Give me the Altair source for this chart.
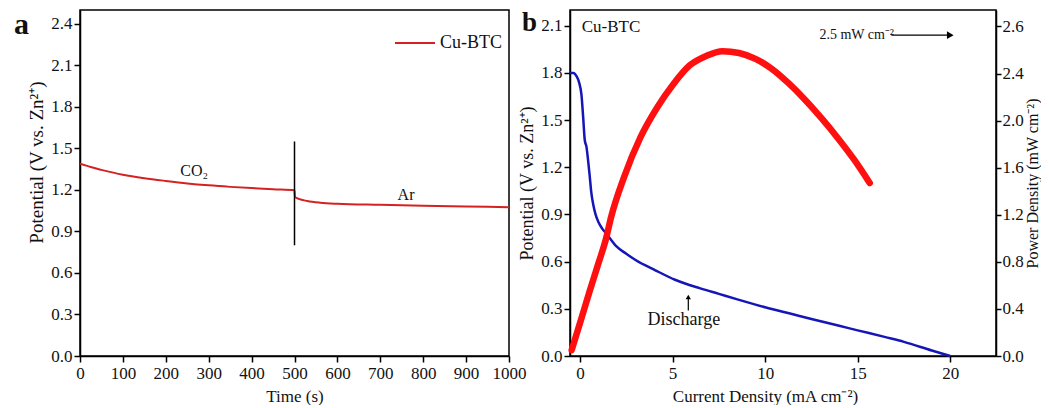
import altair as alt
import pandas as pd

FONT = "Liberation Serif"
RED_A = "#d42222"
RED_B = "#ff1010"
BLUE_B = "#1616b8"
INK = "#111111"

# ---------------- panel a : potential vs time ----------------
time_s = [0, 25, 50, 100, 150, 200, 250, 300, 350, 400, 450, 500,
          501, 510, 530, 560, 600, 700, 800, 900, 1000]
potential_a = [1.390, 1.365, 1.345, 1.310, 1.285, 1.265, 1.247, 1.233, 1.222, 1.213, 1.205, 1.198,
               1.150, 1.135, 1.120, 1.108, 1.100, 1.092, 1.085, 1.080, 1.075]
series_a = "Cu-BTC"
switch_time = [500]
switch_low = [0.80]
switch_high = [1.55]
gas_text = ["CO₂", "Ar"]
gas_time = [266, 760]
gas_pot = [1.34, 1.16]
time_ticks = [0, 100, 200, 300, 400, 500, 600, 700, 800, 900, 1000]
pot_ticks_a = [0.0, 0.3, 0.6, 0.9, 1.2, 1.5, 1.8, 2.1, 2.4]
panel_labels = ["a", "b"]

# ---------------- panel b : polarisation + power ----------------
current_v = [-0.54, -0.35, -0.19, -0.05, 0.08, 0.17, 0.26, 0.35, 0.44, 0.52, 0.61, 0.72, 0.84,
             1.0, 1.2, 1.41, 1.94, 2.5, 3.0, 4.07, 5.13, 6.5, 7.5, 8.5, 10.0, 11.5, 12.5,
             14.0, 15.0, 16.5, 17.5, 19.0, 20.0]
potential_b = [1.80, 1.80, 1.78, 1.74, 1.66, 1.52, 1.37, 1.33, 1.24, 1.15, 1.04, 0.96, 0.90,
               0.85, 0.81, 0.78, 0.70, 0.65, 0.61, 0.545, 0.485, 0.43, 0.395, 0.36, 0.31, 0.265, 0.235,
               0.192, 0.163, 0.12, 0.09, 0.035, 0.0]
current_p = [-0.45, 0.0, 0.5, 1.0, 1.41, 1.68, 2.38, 3.27, 4.16, 5.04, 5.93, 6.82, 7.70,
             8.59, 9.48, 10.36, 11.25, 12.14, 13.02, 13.91, 14.80, 15.65]
power_b = [0.05, 0.28, 0.54, 0.79, 1.00, 1.18, 1.52, 1.86, 2.11, 2.31, 2.47, 2.55, 2.59,
           2.575, 2.525, 2.44, 2.32, 2.18, 2.025, 1.855, 1.67, 1.47]
cd_ticks = [0, 5, 10, 15, 20]
pot_ticks_b = [0.0, 0.3, 0.6, 0.9, 1.2, 1.5, 1.8, 2.1]
power_ticks = [0.0, 0.4, 0.8, 1.2, 1.6, 2.0, 2.4, 2.8]

note_text = ["Cu-BTC", "Discharge"]
note_current = [0.09, 5.61]
note_pot = [2.09, 0.23]
peak_text = ["2.5 mW cm⁻²"]
peak_current = [12.93]
peak_pot = [2.04]
peak_arrow_from = [16.82]
peak_arrow_to = [20.0]
dis_arrow_current = [5.85]
dis_arrow_low = [0.29]
dis_arrow_high = [0.375]

# ================= panel a chart =================
df_a = pd.DataFrame({"t": time_s, "v": potential_a, "s": series_a})
df_sw = pd.DataFrame({"t": switch_time, "v": switch_low, "v2": switch_high})
df_gas = pd.DataFrame({"t": gas_time, "v": gas_pot, "lab": gas_text})
df_la = pd.DataFrame({"lab": [panel_labels[0]]})
df_lb = pd.DataFrame({"lab": [panel_labels[1]]})

X_AXIS = dict(labelPadding=3, titlePadding=7)

xa = alt.X("t:Q", scale=alt.Scale(domain=[0, 1000], nice=False, zero=False),
           axis=alt.Axis(values=time_ticks, format="d", title="Time (s)", **X_AXIS))
ya = alt.Y("v:Q", scale=alt.Scale(domain=[0, 2.5], nice=False),
           axis=alt.Axis(values=pot_ticks_a, format=".1f", title="Potential (V vs. Zn²⁺)",
                         titleY=152, titleFontSize=19))

line_a = alt.Chart(df_a).mark_line(strokeWidth=2, interpolate="monotone").encode(
    x=xa, y=ya,
    color=alt.Color("s:N", scale=alt.Scale(domain=[series_a], range=[RED_A]),
                    legend=alt.Legend(title=None, orient="none", legendX=314, legendY=12,
                                      symbolType="stroke", symbolSize=1600, symbolStrokeWidth=2,
                                      labelFont=FONT, labelFontSize=18, labelColor=INK,
                                      labelOffset=4, padding=0)))
rule_a = alt.Chart(df_sw).mark_rule(color="black", strokeWidth=1.5).encode(
    x=alt.X("t:Q"), y=alt.Y("v:Q"), y2="v2:Q")
gas_a = alt.Chart(df_gas).mark_text(font=FONT, fontSize=16, color=INK).encode(
    x="t:Q", y="v:Q", text="lab:N")
lab_a = alt.Chart(df_la).mark_text(font=FONT, fontSize=30, fontWeight="bold", color=INK,
                                   align="left", baseline="alphabetic").encode(
    x=alt.value(-66), y=alt.value(24), text="lab:N")

left = alt.layer(line_a, rule_a, gas_a, lab_a).properties(width=429, height=346)

# ================= panel b chart =================
df_v = pd.DataFrame({"c": current_v, "v": potential_b})
df_p = pd.DataFrame({"c": current_p, "p": power_b})
df_note = pd.DataFrame({"c": note_current, "v": note_pot, "lab": note_text})
df_peak = pd.DataFrame({"c": peak_current, "v": peak_pot, "lab": peak_text})
df_pa = pd.DataFrame({"c": peak_arrow_from, "c2": peak_arrow_to, "v": peak_pot})
df_ph = pd.DataFrame({"c": peak_arrow_to, "v": peak_pot})
df_da = pd.DataFrame({"c": dis_arrow_current, "v": dis_arrow_low, "v2": dis_arrow_high})
df_dh = pd.DataFrame({"c": dis_arrow_current, "v": dis_arrow_high})

xb = alt.X("c:Q", scale=alt.Scale(domain=[-0.54, 22.47], nice=False, zero=False),
           axis=alt.Axis(values=cd_ticks, format="d", title="Current Density (mA cm⁻²)",
                         titleX=195, **X_AXIS))
yb = alt.Y("v:Q", scale=alt.Scale(domain=[0, 2.2], nice=False),
           axis=alt.Axis(values=pot_ticks_b, format=".1f", title="Potential (V vs. Zn²⁺)",
                         titleFontSize=18))
yp = alt.Y("p:Q", scale=alt.Scale(domain=[0, 2.94], nice=False),
           axis=alt.Axis(orient="right", values=power_ticks, tickSize=5, labelPadding=1,
                         labelExpr="datum.value > 2.7 ? '2.6' : format(datum.value, '.1f')",
                         title="Power Density (mW cm⁻²)", titleAngle=270, titleBaseline="top",
                         titlePadding=1, titleFontSize=16))

blue = alt.Chart(df_v).mark_line(color=BLUE_B, strokeWidth=2.5, interpolate="monotone").encode(x=xb, y=yb)
note_cu = alt.Chart(df_note.iloc[[0]]).mark_text(font=FONT, fontSize=17, color=INK, align="left").encode(
    x="c:Q", y="v:Q", text="lab:N")
note_dis = alt.Chart(df_note.iloc[[1]]).mark_text(font=FONT, fontSize=18, color=INK, align="center").encode(
    x="c:Q", y="v:Q", text="lab:N")
peak_lab = alt.Chart(df_peak).mark_text(font=FONT, fontSize=14, color=INK, align="left").encode(
    x="c:Q", y="v:Q", text="lab:N")
peak_line = alt.Chart(df_pa).mark_rule(color="black", strokeWidth=1.2).encode(
    x="c:Q", x2="c2:Q", y="v:Q")
peak_head = alt.Chart(df_ph).mark_point(shape="triangle-right", filled=True, size=60,
                                        color="black", opacity=1).encode(x="c:Q", y="v:Q")
dis_line = alt.Chart(df_da).mark_rule(color="black", strokeWidth=1.2).encode(
    x="c:Q", y="v:Q", y2="v2:Q")
dis_head = alt.Chart(df_dh).mark_point(shape="triangle-up", filled=True, size=28,
                                       color="black", opacity=1).encode(x="c:Q", y="v:Q")
lab_b = alt.Chart(df_lb).mark_text(font=FONT, fontSize=27, fontWeight="bold", color=INK,
                                   align="left", baseline="alphabetic").encode(
    x=alt.value(-48), y=alt.value(21), text="lab:N")

pot_layer = alt.layer(blue, note_cu, note_dis, peak_lab, peak_line, peak_head, dis_line, dis_head, lab_b)
red = alt.Chart(df_p).mark_line(color=RED_B, strokeWidth=6.5, strokeCap="round",
                                interpolate="monotone").encode(x=xb, y=yp)

right = alt.layer(pot_layer, red).resolve_scale(y="independent").properties(width=426, height=346)

chart = alt.hconcat(left, right, spacing=61, bounds="flush").properties(
    padding={"left": 5, "top": 0, "right": 0, "bottom": 0}
).configure_view(stroke="black", strokeWidth=1.5).configure_axis(
    labelFont=FONT, labelFontSize=17, labelColor=INK, titleFont=FONT, titleFontSize=17,
    titleFontWeight="normal", titleColor=INK, domainColor="black", domainWidth=1.5,
    tickColor="black", tickWidth=1.5, tickSize=6, labelPadding=2, titlePadding=4, grid=False,
    labelFlush=False, labelOverlap=False
)

chart.save("out.html", embed_options={"renderer": "svg", "actions": False})
